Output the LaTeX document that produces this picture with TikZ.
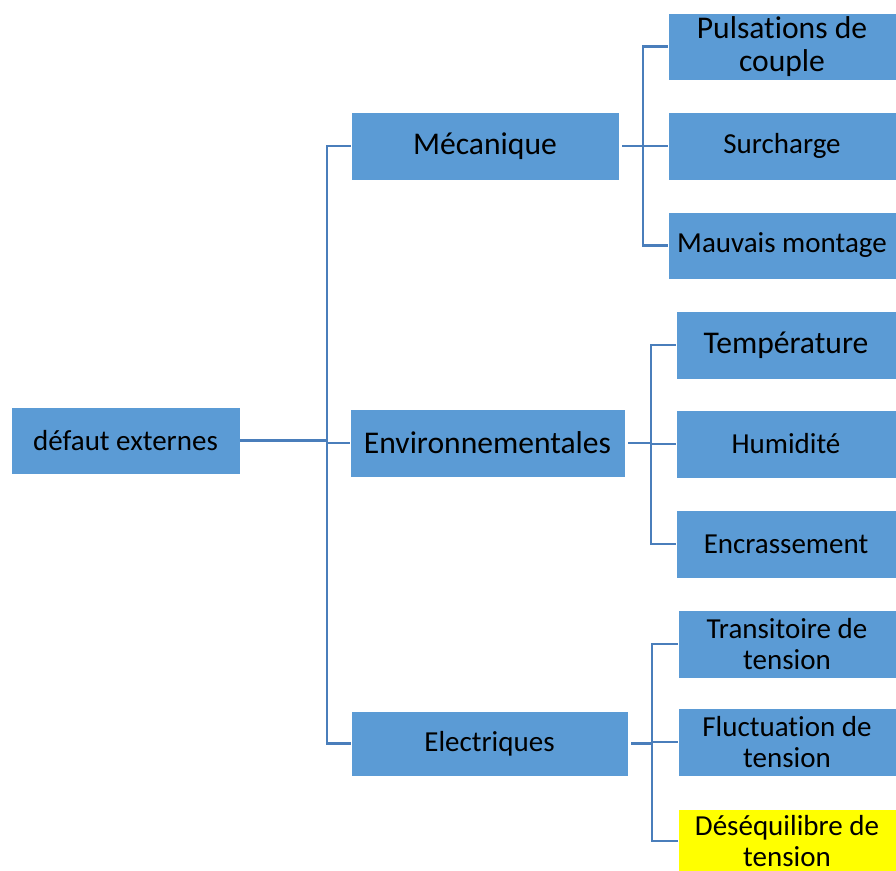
\documentclass[tikz,border=0pt]{standalone}
\usepackage{fontspec}
\setmainfont{Carlito}[Ligatures={NoCommon,NoRare}]
\definecolor{boxblue}{HTML}{5B9BD5}
\definecolor{lineblue}{HTML}{4A7EBB}
\definecolor{hiyellow}{HTML}{FFFF00}
\begin{document}
\begin{tikzpicture}[x=1pt,y=-1pt,
  box/.style={rectangle, fill=boxblue, draw=white, line width=0.6pt, inner sep=2pt, align=center, text=black},
  big/.style={font=\fontsize{31.6}{33.5}\selectfont},
  small/.style={font=\fontsize{29}{31}\selectfont},
  conn/.style={draw=lineblue, line width=2.6pt}]
\useasboundingbox (0,0) rectangle (896,870);
\clip (0,0) rectangle (896,870);
% level 0 and 1
\node[box, small, minimum width=229pt, minimum height=67pt] (root) at (125.5,440.5) {défaut externes};
\node[box, big, minimum width=268pt, minimum height=68pt] (mec) at (485,146) {Mécanique};
\node[box, big, minimum width=275pt, minimum height=68pt] (env) at (487.5,443) {Environnementales};
\node[box, small, minimum width=277pt, minimum height=65pt] (elec) at (489.5,743.5) {Electriques};
% level 2 mechanical
\node[box, big, minimum width=228pt, minimum height=67pt] (puls) at (782,46.5) {Pulsations de\\couple};
\node[box, small, minimum width=228pt, minimum height=68pt] (surch) at (782,146) {Surcharge};
\node[box, small, minimum width=228pt, minimum height=67pt] (mauv) at (782,245.5) {Mauvais montage};
% level 2 environment
\node[box, big, minimum width=220pt, minimum height=68pt] (temp) at (786,345) {Température};
\node[box, small, minimum width=220pt, minimum height=68pt] (humid) at (786,444) {Humidité};
\node[box, small, minimum width=220pt, minimum height=68pt] (encr) at (786,544) {Encrassement};
% level 2 electrical
\node[box, small, minimum width=218pt, minimum height=68pt] (trans) at (787,644) {Transitoire de\\tension};
\node[box, small, minimum width=218pt, minimum height=68pt] (fluct) at (787,742) {Fluctuation de\\tension};
\node[box, small, fill=hiyellow, minimum width=218pt, minimum height=64pt] (deseq) at (787,841) {Déséquilibre de\\tension};
% junction columns
\coordinate (j0) at (327,440);
\coordinate (jm) at (643,146);
\coordinate (je) at (651,443);
\coordinate (jl) at (652,743);
% trunk
\draw[conn] (root.east) -- (root.east -| j0);
\draw[conn] (mec.west) -- (mec.west -| j0) -- (elec.west -| j0) -- (elec.west);
\draw[conn] (env.west) -- (env.west -| j0);
% mechanical
\draw[conn, shorten <=3pt] (mec.east) -- (mec.east -| jm);
\draw[conn] (puls.west) -- (puls.west -| jm) -- (mauv.west -| jm) -- (mauv.west);
\draw[conn] (surch.west) -- (surch.west -| jm);
% environment
\draw[conn, shorten <=3pt] (env.east) -- (env.east -| je);
\draw[conn] (temp.west) -- (temp.west -| je) -- (encr.west -| je) -- (encr.west);
\draw[conn] (humid.west) -- (humid.west -| je);
% electrical
\draw[conn, shorten <=3pt] (elec.east) -- (elec.east -| jl);
\draw[conn] (trans.west) -- (trans.west -| jl) -- (deseq.west -| jl) -- (deseq.west);
\draw[conn] (fluct.west) -- (fluct.west -| jl);
\end{tikzpicture}
\end{document}
